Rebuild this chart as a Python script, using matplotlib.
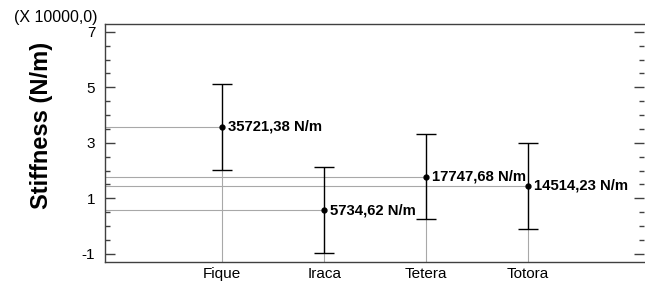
import numpy as np
import matplotlib
matplotlib.use("Agg")
import matplotlib.pyplot as plt

# ============================================================
# DATA (stiffness, N/m)
# ============================================================

categories = ["Fique", "Iraca", "Tetera", "Totora"]

means = [35721.38, 5734.62, 17747.68, 14514.23]

half_width = [15500, 15400, 15300, 15400]

labels = ["35721,38 N/m", "5734,62 N/m", "17747,68 N/m", "14514,23 N/m"]

scale = 10000.0

# ============================================================
# FIGURE
# ============================================================

plt.rcParams["font.family"] = ["Liberation Sans", "DejaVu Sans"]
plt.rcParams["axes.unicode_minus"] = False

fig = plt.figure(figsize=(6.45, 2.85), dpi=100)

ax = fig.add_axes([0.1628, 0.0818, 0.8362, 0.833])

xpos = np.arange(1, len(categories) + 1)
y = np.array(means) / scale
err = np.array(half_width) / scale

xmin, xmax = -0.15, 5.14
ymin, ymax = -1.28, 7.27

# reference lines from axes to each mean
for xi, yi in zip(xpos, y):

    ax.plot([xmin, xi], [yi, yi], color="#a8a8a8", lw=0.8, zorder=1)

    ax.plot([xi, xi], [ymin, yi], color="#a8a8a8", lw=0.8, zorder=1)

ax.errorbar(
    xpos, y, yerr=err,
    fmt="o", color="black", ms=3.5,
    elinewidth=1.0, capsize=7, capthick=1.0,
    zorder=3
)

for xi, yi, txt in zip(xpos, y, labels):

    ax.text(
        xi + 0.055, yi, txt,
        fontsize=10.7, fontweight="bold",
        ha="left", va="center", zorder=4
    )

ax.set_xlim(xmin, xmax)
ax.set_ylim(ymin, ymax)

ax.set_xticks(xpos)
ax.set_xticklabels(categories)

ax.set_yticks([-1, 1, 3, 5, 7])
ax.set_yticks(np.arange(-1, 7.01, 0.5), minor=True)

ax.tick_params(
    axis="y", which="both", direction="in",
    left=True, right=True, labelsize=11, pad=7,
    color="#404040", width=1.0
)
ax.tick_params(axis="y", which="major", length=7)
ax.tick_params(axis="y", which="minor", length=3.5)

ax.tick_params(axis="x", length=0, labelsize=11, pad=4)

for s in ax.spines.values():
    s.set_color("#404040")
    s.set_linewidth(1.0)

ax.spines["right"].set_visible(False)

ax.set_ylabel("Stiffness (N/m)", fontsize=17, fontweight="bold")
ax.yaxis.set_label_coords(-0.096, 0.575)

fig.text(0.022, 1 - 10 / 285, "(X 10000,0)", fontsize=11.5, ha="left", va="top")

fig.savefig("out.png", dpi=100)
